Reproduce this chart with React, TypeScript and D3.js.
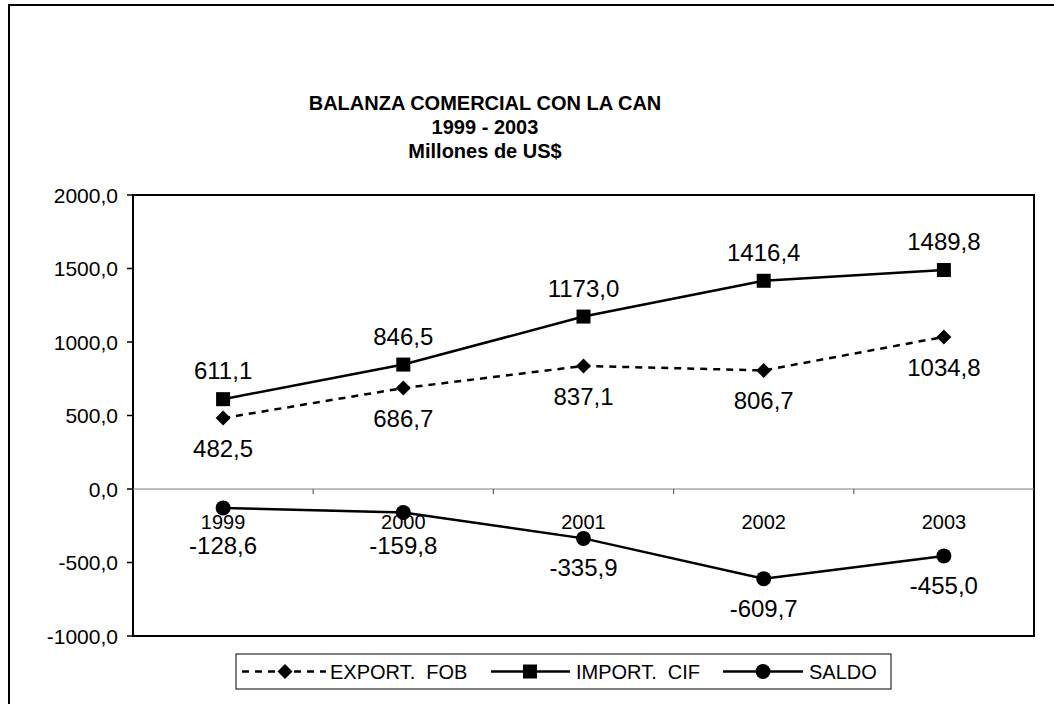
import React from "react";
import * as d3 from "d3";

const years = ["1999", "2000", "2001", "2002", "2003"];
const exportFob = [482.5, 686.7, 837.1, 806.7, 1034.8];
const importCif = [611.1, 846.5, 1173.0, 1416.4, 1489.8];
const saldo = [-128.6, -159.8, -335.9, -609.7, -455.0];
const yTicks = [-1000, -500, 0, 500, 1000, 1500, 2000];
const titleLines = ["BALANZA COMERCIAL CON LA CAN", "1999 - 2003", "Millones de US$"];
const legendLabels = ["EXPORT.  FOB", "IMPORT.  CIF", "SALDO"];

const W = 1054;
const H = 704;
const plot = { left: 133, right: 1034, top: 195, bottom: 636 };
const FONT = "'Liberation Sans', Arial, Helvetica, sans-serif";

const fmt = (v: number) => v.toFixed(1).replace(".", ",");

export default function App() {
  const x = d3.scaleBand<string>().domain(years).range([plot.left, plot.right]).padding(0);
  const y = d3.scaleLinear().domain([-1000, 2000]).range([plot.bottom, plot.top]);
  const cx = (i: number) => (x(years[i]) as number) + x.bandwidth() / 2;

  const line = d3
    .line<number>()
    .x((_, i) => cx(i))
    .y((d) => y(d));

  const diamond = (px: number, py: number, r = 7.5) =>
    `M${px},${py - r}L${px + r},${py}L${px},${py + r}L${px - r},${py}Z`;

  const zeroY = y(0);
  const catBase = zeroY + 40;

  // Legend layout
  const lg = { x0: 236, y0: 654, x1: 891, y1: 689 };
  const lgMid = (lg.y0 + lg.y1) / 2;
  const lgBase = lgMid + 7;

  return (
    <svg
      width={W}
      height={H}
      style={{ position: "absolute", left: 0, top: 0, background: "#fff" }}
      fontFamily={FONT}
    >
      <rect x={0} y={0} width={W} height={H} fill="#fff" />
      {/* outer chart frame */}
      <rect x={9} y={5} width={1100} height={760} fill="none" stroke="#000" strokeWidth={2} />

      {/* title */}
      {titleLines.map((t, i) => (
        <text
          key={t}
          x={485}
          y={110 + i * 24}
          textAnchor="middle"
          fontWeight="bold"
          fontSize={20}
          fill="#000"
        >
          {t}
        </text>
      ))}

      {/* plot area frame */}
      <rect
        x={plot.left}
        y={plot.top}
        width={plot.right - plot.left}
        height={plot.bottom - plot.top}
        fill="#fff"
        stroke="#000"
        strokeWidth={2}
      />

      {/* y axis ticks & labels */}
      {yTicks.map((t) => (
        <g key={t}>
          <line x1={plot.left - 6} x2={plot.left} y1={y(t)} y2={y(t)} stroke="#000" strokeWidth={1.5} />
          <text x={118} y={y(t) + 7.5} textAnchor="end" fontSize={21} fill="#000">
            {fmt(t)}
          </text>
        </g>
      ))}

      {/* zero (category) axis */}
      <line x1={plot.left} x2={plot.right} y1={zeroY} y2={zeroY} stroke="#808080" strokeWidth={1.2} />
      {years.slice(1).map((yr) => (
        <line
          key={yr}
          x1={x(yr) as number}
          x2={x(yr) as number}
          y1={zeroY}
          y2={zeroY + 5}
          stroke="#606060"
          strokeWidth={1.2}
        />
      ))}
      {years.map((yr, i) => (
        <text key={yr} x={cx(i)} y={catBase} textAnchor="middle" fontSize={20} fill="#000">
          {yr}
        </text>
      ))}

      {/* series lines */}
      <path d={line(exportFob) || ""} fill="none" stroke="#000" strokeWidth={2.5} strokeDasharray="7,6" />
      <path d={line(importCif) || ""} fill="none" stroke="#000" strokeWidth={2.5} />
      <path d={line(saldo) || ""} fill="none" stroke="#000" strokeWidth={2.5} />

      {/* markers */}
      {exportFob.map((v, i) => (
        <path key={"e" + i} d={diamond(cx(i), y(v))} fill="#000" />
      ))}
      {importCif.map((v, i) => (
        <rect key={"i" + i} x={cx(i) - 7} y={y(v) - 7} width={14} height={14} fill="#000" />
      ))}
      {saldo.map((v, i) => (
        <circle key={"s" + i} cx={cx(i)} cy={y(v)} r={7.5} fill="#000" />
      ))}

      {/* data labels */}
      {importCif.map((v, i) => (
        <text key={"li" + i} x={cx(i)} y={y(v) - 20} textAnchor="middle" fontSize={24} fill="#000">
          {fmt(v)}
        </text>
      ))}
      {exportFob.map((v, i) => (
        <text key={"le" + i} x={cx(i)} y={y(v) + 39} textAnchor="middle" fontSize={24} fill="#000">
          {fmt(v)}
        </text>
      ))}
      {saldo.map((v, i) => (
        <text
          key={"ls" + i}
          x={cx(i)}
          y={Math.max(y(v) + 38, catBase + 25)}
          textAnchor="middle"
          fontSize={24}
          fill="#000"
        >
          {fmt(v)}
        </text>
      ))}

      {/* legend */}
      <rect
        x={lg.x0}
        y={lg.y0}
        width={lg.x1 - lg.x0}
        height={lg.y1 - lg.y0}
        fill="#fff"
        stroke="#000"
        strokeWidth={1}
      />
      <line x1={242} x2={326} y1={lgMid} y2={lgMid} stroke="#000" strokeWidth={2.5} strokeDasharray="7,6" />
      <path d={diamond(285, lgMid)} fill="#000" />
      <text x={330} y={lgBase} fontSize={20} fill="#000" style={{ whiteSpace: "pre" }}>
        {legendLabels[0]}
      </text>
      <line x1={491} x2={570} y1={lgMid} y2={lgMid} stroke="#000" strokeWidth={2.5} />
      <rect x={530 - 7} y={lgMid - 7} width={14} height={14} fill="#000" />
      <text x={576} y={lgBase} fontSize={20} fill="#000" style={{ whiteSpace: "pre" }}>
        {legendLabels[1]}
      </text>
      <line x1={723} x2={803} y1={lgMid} y2={lgMid} stroke="#000" strokeWidth={2.5} />
      <circle cx={763} cy={lgMid} r={7.5} fill="#000" />
      <text x={809} y={lgBase} fontSize={20} fill="#000">
        {legendLabels[2]}
      </text>
    </svg>
  );
}
